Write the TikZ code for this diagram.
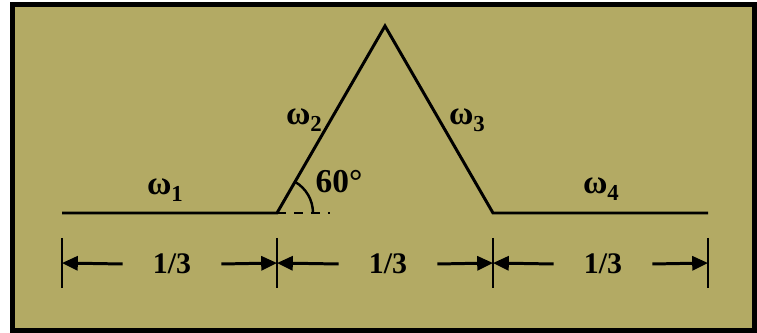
\documentclass[tikz,border=0pt]{standalone}
\usepackage{fontspec}
\setmainfont{Liberation Serif}
\usetikzlibrary{arrows.meta}
\definecolor{khakibg}{RGB}{179,170,100}
\newcommand{\wsub}[1]{ω\raisebox{-0.45ex}{\fontsize{13}{13}\selectfont #1}}

\begin{document}
\begin{tikzpicture}[x=0.02cm, y=-0.02cm,
  curve/.style={line width=1.7pt},
  frameline/.style={line width=2.8pt},
  tickline/.style={line width=1.5pt},
  dimarrow/.style={line width=1.7pt, -{Triangle[length=9pt,width=8pt]}},
  seglabel/.style={font=\bfseries\fontsize{19}{20}\selectfont, inner sep=0pt},
  dimlabel/.style={font=\bfseries\fontsize{17}{18}\selectfont, inner ysep=0pt, inner xsep=0pt, minimum width=1.96cm}]
  \useasboundingbox (0,0) rectangle (757,333);
  \fill[khakibg] (12.5,4.5) rectangle (754.5,330.5);
  \draw[frameline] (12.5,4.5) rectangle (754.5,330.5);

  % curve
  \coordinate (p0) at (62,213);
  \coordinate (p1) at (277,213);
  \coordinate (p2) at (385,26);
  \coordinate (p3) at (493,213);
  \coordinate (p4) at (708,213);
  \draw[curve] (p0) -- (p1) -- (p2) -- (p3) -- (p4);

  % angle at p1
  \coordinate (dashend) at (330,213);
  \draw[line width=1.2pt, dash pattern=on 0.18cm off 0.16cm] (p1) -- (dashend);
  \draw[line width=1.4pt] ([xshift=0.72cm]p1) arc[start angle=0, end angle=-60, radius=36];
  \node[seglabel, font=\bfseries\fontsize{19}{20}\selectfont] (ang) at (339,182) {60°};

  \node[seglabel] (w1) at (165,190) {\wsub{1}};
  \node[seglabel] (w2) at (304,120) {\wsub{2}};
  \node[seglabel] (w3) at (467,120) {\wsub{3}};
  \node[seglabel] (w4) at (601,189) {\wsub{4}};

  % dimensions
  \foreach \x [count=\i] in {62,277,493,708} {
    \coordinate (top\i) at (\x,238);
    \coordinate (bot\i) at (\x,288);
    \coordinate (dim\i) at (\x,263);
    \draw[tickline] (top\i) -- (bot\i);
  }
  \node[dimlabel] (d1) at (172,264) {1/3};
  \node[dimlabel] (d2) at (388,264) {1/3};
  \node[dimlabel] (d3) at (603,264) {1/3};
  \draw[dimarrow] (d1.west) -- (dim1);
  \draw[dimarrow] (d1.east) -- (dim2);
  \draw[dimarrow] (d2.west) -- (dim2);
  \draw[dimarrow] (d2.east) -- (dim3);
  \draw[dimarrow] (d3.west) -- (dim3);
  \draw[dimarrow] (d3.east) -- (dim4);
\end{tikzpicture}
\end{document}
